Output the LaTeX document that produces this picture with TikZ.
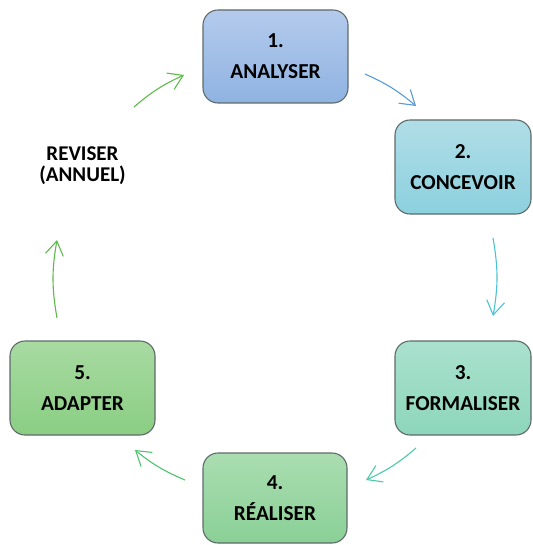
\documentclass[tikz,border=0pt]{standalone}
\usepackage{fontspec}
\setmainfont{Carlito}
\usetikzlibrary{arrows.meta}
\definecolor{bordc}{HTML}{5F6A6A}
\definecolor{aBlue}{HTML}{5B9BD5}
\definecolor{aTeal}{HTML}{4BC3D2}
\definecolor{aMint}{HTML}{4CCBAA}
\definecolor{aGreen}{HTML}{4FC46E}
\definecolor{aLeaf}{HTML}{5DBB4C}
\definecolor{oneT}{RGB}{180,202,236}\definecolor{oneB}{RGB}{143,179,226}
\definecolor{twoT}{RGB}{176,222,231}\definecolor{twoB}{RGB}{140,208,222}
\definecolor{thrT}{RGB}{170,225,206}\definecolor{thrB}{RGB}{141,214,187}
\definecolor{fouT}{RGB}{170,221,177}\definecolor{fouB}{RGB}{138,208,150}
\definecolor{fivT}{RGB}{168,218,162}\definecolor{fivB}{RGB}{138,206,131}
\tikzset{
  stagebox/.style={draw=bordc, line width=1.1pt, rounded corners=15pt,
    minimum width=#1, align=center, inner sep=0pt,
    font=\fontsize{21.3}{31}\selectfont\bfseries},
  cyclearrow/.style={line width=1.1pt, -{Straight Barb[length=14pt,width=18pt,line width=1.1pt]}},
}
\begin{document}
\begin{tikzpicture}[x=1pt,y=-1pt]
\useasboundingbox (0,0) rectangle (532,545);
\node[stagebox=145pt, minimum height=93pt, top color=oneT, bottom color=oneB] (n1) at (275.5,56.5) {1.\\ANALYSER};
\node[stagebox=136pt, minimum height=94pt, top color=twoT, bottom color=twoB] (n2) at (463,167) {2.\\CONCEVOIR};
\node[stagebox=136pt, minimum height=94pt, top color=thrT, bottom color=thrB] (n3) at (463,388) {3.\\FORMALISER};
\node[stagebox=144pt, minimum height=90pt, top color=fouT, bottom color=fouB] (n4) at (275,498) {4.\\RÉALISER};
\node[stagebox=145pt, minimum height=94pt, top color=fivT, bottom color=fivB] (n5) at (82.5,388) {5.\\ADAPTER};
\node[align=center, inner sep=0pt, font=\fontsize{21}{21}\selectfont\bfseries] (rev) at (82.5,166) {REVISER\\(ANNUEL)};
% arrow end points
\coordinate (a1s) at (365,74);  \coordinate (a1e) at (416,106);
\coordinate (a2s) at (493,238); \coordinate (a2e) at (493,316);
\coordinate (a3s) at (416,448); \coordinate (a3e) at (366,480);
\coordinate (a4s) at (185,480); \coordinate (a4e) at (135,450);
\coordinate (a5s) at (57,318);  \coordinate (a5e) at (57,240);
\coordinate (a6s) at (134,107); \coordinate (a6e) at (184,75);
\draw[cyclearrow, aBlue]  (a1s) to[bend left=8]  (a1e);
\draw[cyclearrow, aTeal]  (a2s) to[bend left=10] (a2e);
\draw[cyclearrow, aMint]  (a3s) to[bend left=8]  (a3e);
\draw[cyclearrow, aGreen] (a4s) to[bend left=8]  (a4e);
\draw[cyclearrow, aLeaf]  (a5s) to[bend left=10] (a5e);
\draw[cyclearrow, aLeaf]  (a6s) to[bend left=8]  (a6e);
\end{tikzpicture}
\end{document}
